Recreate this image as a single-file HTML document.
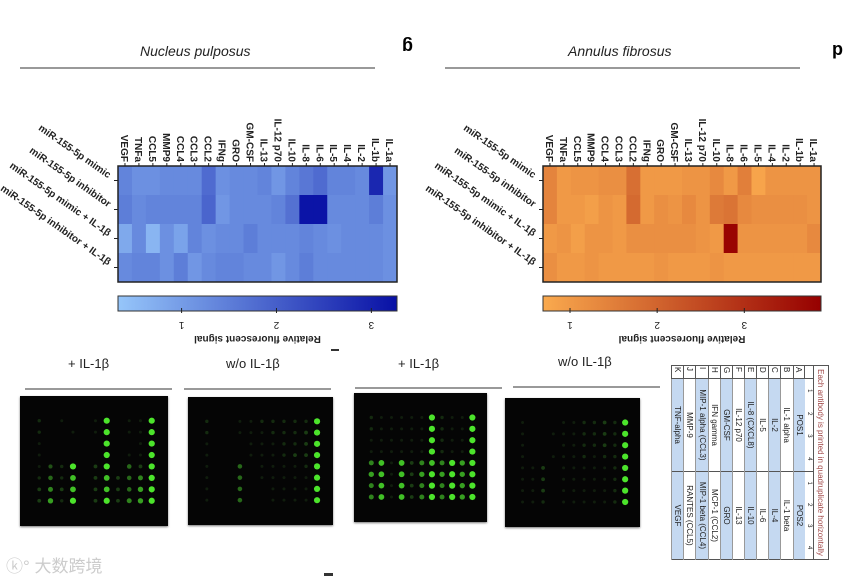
<!DOCTYPE html>
<html><head><meta charset="utf-8"><style>
body{margin:0;background:#fff;width:865px;height:581px;overflow:hidden;position:relative;font-family:"Liberation Sans","Noto Sans CJK SC",sans-serif}
.abs{position:absolute}
.ttl{font-style:italic;font-size:14px;color:#222}
.hr{height:2px;background:#999}
.lab{font-size:13px;color:#222}
.blot{background:#050505;box-shadow:0 1px 2px #777}
</style></head><body>
<div class="abs ttl" style="left:140px;top:43px">Nucleus pulposus</div>
<div class="abs hr" style="left:20px;top:67px;width:355px"></div>
<div class="abs ttl" style="left:568px;top:43px">Annulus fibrosus</div>
<div class="abs hr" style="left:445px;top:67px;width:355px"></div>
<div class="abs" style="left:402px;top:36px;font-size:18px;font-weight:bold;transform:rotate(180deg)">g</div>
<div class="abs" style="left:832px;top:40px;font-size:18px;font-weight:bold;transform:rotate(180deg)">d</div>
<svg class="abs" style="left:0;top:0" width="865" height="345" id="hm"></svg>

<div class="abs lab" style="left:68px;top:356px">+ IL-1β</div>
<div class="abs hr" style="left:25px;top:388px;width:147px"></div>
<div class="abs lab" style="left:226px;top:356px">w/o IL-1β</div>
<div class="abs hr" style="left:184px;top:388px;width:147px"></div>
<div class="abs lab" style="left:398px;top:356px">+ IL-1β</div>
<div class="abs hr" style="left:355px;top:387px;width:147px"></div>
<div class="abs lab" style="left:558px;top:354px">w/o IL-1β</div>
<div class="abs hr" style="left:513px;top:386px;width:147px"></div>
<div class="abs" style="left:331px;top:349px;width:8px;height:2px;background:#333"></div>
<div class="abs" style="left:324px;top:573px;width:9px;height:3px;background:#333"></div>
<div id="blots"></div>
<div class="abs" style="left:6px;top:552px;font-size:17px;color:#ccc">ⓚ° 大数跨境</div>

<div class="abs" style="left:671px;top:365px;width:195px;height:158px;transform-origin:0 0;transform:translate(158px,0) rotate(90deg)">
<table style="border-collapse:collapse;font-size:8px;width:195px;height:158px;color:#222" id="tbl">
<tr><td colspan="9" style="color:#a04848;border:1px solid #555;text-align:center;height:12px">Each antibody is printed in quadruplicate horizontally</td></tr>
<tr style="font-size:6px;text-align:center"><td style="border:1px solid #555"></td><td>1</td><td>2</td><td>3</td><td style="border-right:1px solid #555">4</td><td>1</td><td>2</td><td>3</td><td style="border-right:1px solid #555">4</td></tr>
</table></div>

<script>
const cytokines=["VEGF","TNFa","CCL5","MMP9","CCL4","CCL3","CCL2","IFNg","GRO","GM-CSF","IL-13","IL-12 p70","IL-10","IL-8","IL-6","IL-5","IL-4","IL-2","IL-1b","IL-1a"];
const conditions=["miR-155-5p mimic","miR-155-5p inhibitor","miR-155-5p mimic + IL-1β","miR-155-5p inhibitor + IL-1β"];
const npValues=[
[1.4,1.2,1.2,1.3,1.3,1.3,1.8,1.2,1.3,1.3,1.4,1.1,1.4,1.6,1.8,1.4,1.4,1.3,2.9,1.1],
[1.5,1.3,1.4,1.4,1.4,1.4,1.9,1.1,1.3,1.3,1.3,1.4,1.7,3.2,3.2,1.3,1.3,1.3,1.5,1.2],
[0.8,1.3,0.6,1.2,0.9,1.4,1.2,1.3,1.3,1.5,1.3,1.3,1.3,1.4,1.3,1.2,1.3,1.3,1.3,1.2],
[1.3,1.4,1.4,1.2,1.5,1.1,1.3,1.4,1.4,1.3,1.3,1.1,1.3,1.5,1.3,1.3,1.3,1.3,1.3,1.2]];
const afValues=[
[1.4,1.0,1.1,1.1,1.2,1.2,1.8,1.0,1.0,1.0,1.1,1.1,1.3,1.0,1.5,0.8,1.1,1.1,1.1,1.1],
[1.4,1.0,1.0,0.9,1.1,1.0,1.9,1.0,1.2,1.1,1.3,1.1,1.6,1.7,1.3,1.2,1.2,1.2,1.2,1.1],
[1.0,1.1,0.9,1.1,1.1,1.0,1.2,1.2,1.2,1.2,1.2,1.1,1.0,3.8,1.1,1.1,1.1,1.1,1.1,1.3],
[1.2,1.0,1.0,1.1,1.0,1.0,1.0,1.0,1.1,1.0,1.0,1.0,1.1,1.0,1.0,1.0,1.0,1.0,1.0,1.0]];
const cbTicks=[1,2,3];
const NS="http://www.w3.org/2000/svg";
const svg=document.getElementById('hm');
function mk(t,a){const e=document.createElementNS(NS,t);for(const k in a)e.setAttribute(k,a[k]);svg.appendChild(e);return e;}
function lerp(a,b,t){return a.map((v,i)=>Math.round(v+(b[i]-v)*t));}
function col(c0,c1,t){t=Math.max(0,Math.min(1,t));return 'rgb('+lerp(c0,c1,t).join(',')+')';}
function heat(x0,x1,y0,y1,vals,vmin,vmax,c0,c1,name){
 const cw=(x1-x0)/cytokines.length, rh=(y1-y0)/conditions.length;
 const sx=v=>x0+(v-vmin)/(vmax-vmin)*(x1-x0);
 vals.forEach((row,r)=>row.forEach((v,c)=>{
  const e=mk('rect',{x:x0+c*cw,y:y0+r*rh,width:cw+0.5,height:rh+0.5,fill:col(c0,c1,(v-vmin)/(vmax-vmin))});
  
  
 }));
 mk('rect',{x:x0,y:y0,width:x1-x0,height:y1-y0,fill:'none',stroke:'#222','stroke-width':1.5});
 cytokines.forEach((n,c)=>{
  const x=x0+(c+0.5)*cw;
  mk('line',{x1:x,x2:x,y1:y0,y2:y0-3,stroke:'#222'});
  const t=mk('text',{x:0,y:0,transform:`translate(${x-4},${y0-4}) rotate(90)`,'text-anchor':'end','font-size':10,'font-weight':'bold',fill:'#222'});
  t.textContent=n;
  
  
 });
 conditions.forEach((n,r)=>{
  const y=y0+(r+0.5)*rh;
  mk('line',{x1:x0,x2:x0-4,y1:y,y2:y,stroke:'#222'});
  const t=mk('text',{x:0,y:0,transform:`translate(${x0-10},${y-2}) rotate(35)`,'text-anchor':'end','font-size':10,'font-weight':'bold',fill:'#222'});
  t.textContent=n;
  
  
 });
 const g=mk('defs',{});const id=name+'g';
 g.innerHTML=`<linearGradient id="${id}"><stop offset="0" stop-color="${col(c0,c1,0)}"/><stop offset="1" stop-color="${col(c0,c1,1)}"/></linearGradient>`;
 const cb=mk('rect',{x:x0,y:296,width:x1-x0,height:15,fill:`url(#${id})`,stroke:'#333'});
 
 
 cbTicks.forEach(v=>{
  const x=sx(v);
  mk('line',{x1:x,x2:x,y1:308,y2:313,stroke:'#222'});
  const t=mk('text',{x:0,y:0,transform:`translate(${x},322) rotate(180)`,'text-anchor':'middle','font-size':10,fill:'#222'});t.textContent=v;
 });
 const t=mk('text',{x:0,y:0,transform:`translate(${(x0+x1)/2},336) rotate(180)`,'text-anchor':'middle','font-size':10,'font-weight':'bold',fill:'#222'});
 t.textContent='Relative fluorescent signal';
 
 
}
heat(118,397,166,282,npValues,0.33,3.27,[150,198,250],[8,16,165],'np');
heat(543,821,166,282,afValues,0.69,3.88,[250,170,78],[150,0,0],'af');

const blotData=[
["20100190119","20010190119","10000090019","10000090119","14290390539","25280383569","36380383579","37290393679"],
["20011222229","20011122239","10001112239","10001112339","10050111129","10050111119","10050011119","10050011119"],
["21111192119","21111192119","11111192119","11111192119","68183686979","78183797979","68183696979","68183696979"],
["10001122329","10011122329","10001122329","10011121229","11301111129","11301111129","11301111129","11201111129"]];
const blotBoxes=[[20,396,148,130],[188,397,145,128],[354,393,133,129],[505,398,135,129]];
const bc=document.getElementById('blots');
blotBoxes.forEach((b,i)=>{
 const d=document.createElement('div');d.className='abs blot';
 d.style.cssText=`left:${b[0]}px;top:${b[1]}px;width:${b[2]}px;height:${b[3]}px`;
 
 
 let s=`<svg width="${b[2]}" height="${b[3]}">`;
 blotData[i].forEach((row,r)=>{[...row].forEach((ch,c)=>{
  const v=+ch/9;if(v<=0)return;
  const x=b[2]*(0.13+c*0.076),y=b[3]*(0.19+r*0.088);
  s+=`<circle cx="${x}" cy="${y}" r="${1.3+v*1.8}" fill="rgb(${Math.round(30+v*50)},${Math.round(50+v*190)},${Math.round(25+v*20)})" opacity="${0.3+v*0.65}"/>`;
 });});
 d.innerHTML=s+'</svg>';bc.appendChild(d);
});

const tblRows=[["A","POS1","POS2"],["B","IL-1 alpha","IL-1 beta"],["C","IL-2","IL-4"],["D","IL-5","IL-6"],["E","IL-8 (CXCL8)","IL-10"],["F","IL-12 p70","IL-13"],["G","GM-CSF","GRO"],["H","IFN gamma","MCP-1 (CCL2)"],["I","MIP-1 alpha (CCL3)","MIP-1 beta (CCL4)"],["J","MMP-9","RANTES (CCL5)"],["K","TNF-alpha","VEGF"]];
const blue=[0,2,4,6,8,10];
const tb=document.getElementById('tbl');
tblRows.forEach((r,i)=>{
 const tr=document.createElement('tr');
 const bg=blue.includes(i)?'#c5d9f1':'#fff';
 tr.innerHTML=`<td style="border:1px solid #555;width:10px;padding:0 1px">${r[0]}</td><td colspan="4" style="background:${bg};text-align:center;border-right:1px solid #555;border-bottom:1px solid #999">${r[1]}</td><td colspan="4" style="background:${bg};text-align:center;border-right:1px solid #555;border-bottom:1px solid #999">${r[2]}</td>`;
 
 
 tb.appendChild(tr);
});
</script>
</body></html>
